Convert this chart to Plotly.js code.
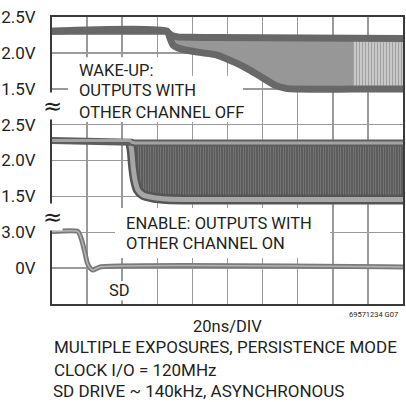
<!DOCTYPE html>
<html><head><meta charset="utf-8">
<script src="https://cdn.plot.ly/plotly-3.0.1.min.js"></script>
<style>html,body{margin:0;padding:0;background:#fff;}#chart{width:406px;height:402px;}</style>
</head><body><div id="chart"></div>
<script>
// ---- data (time in ns, values in volts) ----
const ch1Time  = [0, 65.5, 67.2, 68.9, 71.8, 75.8, 86, 94, 104.8, 112.8, 120.2, 127, 133.3, 139, 171.5, 200];
const ch1Upper = [2.30, 2.30, 2.26, 2.235, 2.222, 2.215, 2.214, 2.214, 2.212, 2.21, 2.21, 2.205, 2.205, 2.205, 2.20, 2.20];
const ch1Lower = [2.30, 2.30, 2.207, 2.11, 2.068, 2.04, 2.0, 1.97, 1.86, 1.76, 1.65, 1.55, 1.505, 1.495, 1.495, 1.495];
const ch1StripeStart = 171.5;

const ch2Time  = [0, 44.4, 45.4, 46.2, 47.3, 49, 51.9, 57.5, 65.5, 75, 200];
const ch2Upper = [2.279, 2.279, 2.255, 2.248, 2.245, 2.244, 2.244, 2.244, 2.244, 2.244, 2.244];
const ch2Lower = [2.279, 2.272, 2.146, 1.924, 1.728, 1.589, 1.519, 1.484, 1.463, 1.457, 1.457];

const sdTime = [0, 14.8, 16.9, 18.8, 20.1, 21.7, 23.4, 27.4, 200];
const sdVolt = [3.06, 3.06, 2.35, 1.27, 0.43, 0.01, -0.16, 0.10, 0.10];

const tickPos = [1, 2, 3, 4, 5, 6, 7, 8];
const tickText = ['0V', '3.0V', '1.5V', '2.0V', '2.5V', '1.5V', '2.0V', '2.5V'];

// ---- channel offsets on the screen (divisions) ----
const d1 = v => 6 + (v - 1.5) / 0.5;
const d2 = v => 3 + (v - 1.5) / 0.5;
const d3 = v => 1 + v / 3;

const FONT = 'Roboto, Liberation Sans, sans-serif';
const TXT = '#231f20';

function sliceBy(t, arr, lo, hi){ const o={x:[],y:[]}; t.forEach((tt,i)=>{ if(tt>=lo && tt<=hi){o.x.push(tt);o.y.push(arr[i]);} }); return o; }

const traces = [];
// ch1 medium fill
let lo1 = sliceBy(ch1Time, ch1Lower.map(d1), 65.5, ch1StripeStart);
let up1 = sliceBy(ch1Time, ch1Upper.map(d1), 65.5, ch1StripeStart);
traces.push({x: lo1.x, y: lo1.y, mode:'lines', line:{width:0, color:'rgba(0,0,0,0)', shape:'spline', smoothing:0.6}, hoverinfo:'skip'});
traces.push({x: up1.x, y: up1.y, mode:'lines', line:{width:0, color:'rgba(0,0,0,0)'}, fill:'tonexty', fillcolor:'#979797', hoverinfo:'skip'});
// ch1 striped fill
let lo1b = sliceBy(ch1Time, ch1Lower.map(d1), ch1StripeStart, 200);
let up1b = sliceBy(ch1Time, ch1Upper.map(d1), ch1StripeStart, 200);
traces.push({x: lo1b.x, y: lo1b.y, mode:'lines', line:{width:0, color:'rgba(0,0,0,0)'}, hoverinfo:'skip'});
traces.push({x: up1b.x, y: up1b.y, mode:'lines', line:{width:0, color:'rgba(0,0,0,0)'}, fill:'tonexty', fillcolor:'#c2c2c2',
  fillpattern:{shape:'|', bgcolor:'#c8c8c8', fgcolor:'#a0a0a0', size:3, solidity:0.35}, hoverinfo:'skip'});
// ch1 lines
traces.push({x: ch1Time, y: ch1Upper.map(d1), mode:'lines', line:{width:7, color:'#686868'}, hoverinfo:'skip'});
traces.push({x: ch1Time, y: ch1Lower.map(d1), mode:'lines', line:{width:7, color:'#686868', shape:'spline', smoothing:0.6}, hoverinfo:'skip'});

// ch2 fill
const lo2 = sliceBy(ch2Time, ch2Lower.map(d2), 44.4, 200);
traces.push({x: ch2Time, y: ch2Lower.map(d2), mode:'lines', line:{width:0, color:'rgba(0,0,0,0)', shape:'spline', smoothing:0.6}, hoverinfo:'skip'});
traces.push({x: ch2Time, y: ch2Upper.map(d2), mode:'lines', line:{width:0, color:'rgba(0,0,0,0)'}, fill:'tonexty', fillcolor:'#5a5a5a',
  fillpattern:{shape:'|', bgcolor:'#595959', fgcolor:'#808080', size:2.5, solidity:0.35}, hoverinfo:'skip'});
// ch2 edges
traces.push({x: lo2.x, y: lo2.y, mode:'lines', line:{width:10, color:'#555555', shape:'spline', smoothing:0.6}, hoverinfo:'skip'});
traces.push({x: lo2.x, y: lo2.y, mode:'lines', line:{width:5, color:'#a6a6a6', shape:'spline', smoothing:0.6}, hoverinfo:'skip'});
traces.push({x: ch2Time, y: ch2Upper.map(d2), mode:'lines', line:{width:7, color:'#5e5e5e'}, hoverinfo:'skip'});
traces.push({x: ch2Time, y: ch2Upper.map(d2), mode:'lines', line:{width:3, color:'#a3a3a3'}, hoverinfo:'skip'});

// SD
traces.push({x: sdTime, y: sdVolt.map(d3), mode:'lines', line:{width:5, color:'#7a7a7a', shape:'spline', smoothing:0.5}, hoverinfo:'skip'});
traces.push({x: sdTime, y: sdVolt.map(d3), mode:'lines', line:{width:1.5, color:'#b5b5b5', shape:'spline', smoothing:0.5}, hoverinfo:'skip'});

// white boxes hiding the graticule behind the text
const box = (x0,x1,y0,y1) => ({type:'rect', xref:'x', yref:'y', x0, x1, y0, y1, fillcolor:'#ffffff', line:{width:0}, layer:'between'});
const shapes = [
  box(9.1, 62.5, 5.07, 6.88),
  box(9.1, 108.8, 5.07, 6.36),
  box(35.9, 158.4, 1.282, 2.676),
  box(29.6, 45.6, 0.1, 0.64)
];

const ann = (text, x, y, opts={}) => Object.assign({text, x, y, xref:'x', yref:'y', showarrow:false, xanchor:'left', yanchor:'middle',
  font:{family:FONT, size:16.5, color:TXT}}, opts);
const pann = (text, x, y, opts={}) => Object.assign({text, x, y, xref:'paper', yref:'paper', showarrow:false, xanchor:'left', yanchor:'middle',
  font:{family:FONT, size:17, color:TXT}}, opts);

const annotations = [
  ann('WAKE-UP:', 14.2, 6.495),
  ann('OUTPUTS WITH', 14.2, 5.965),
  ann('OTHER CHANNEL OFF', 14.2, 5.352),
  ann('ENABLE: OUTPUTS WITH', 41.0, 2.244),
  ann('OTHER CHANNEL ON', 41.0, 1.686),
  ann('SD', 38.7, 0.39, {xanchor:'center'}),
  pann('≈', 0, 0.69, {xanchor:'center', bgcolor:'#ffffff', borderpad:0, font:{family:'DejaVu Sans', size:23, color:TXT}}),
  pann('≈', 0, 0.303, {xanchor:'center', bgcolor:'#ffffff', borderpad:0, font:{family:'DejaVu Sans', size:23, color:TXT}}),
  pann('20ns/DIV', 0.501, -0.0767, {xanchor:'center', font:{family:FONT, size:16.5, color:TXT}}),
  pann('69571234 G07', 0.991, -0.035, {xanchor:'right', font:{family:FONT, size:7.5, color:TXT}}),
  pann('MULTIPLE EXPOSURES, PERSISTENCE MODE', 0, -0.150),
  pann('CLOCK I/O = 120MHz', 0, -0.230),
  pann('SD DRIVE ~ 140kHz, ASYNCHRONOUS', 0, -0.302, {borderpad:0})
];

const layout = {
  width:406, height:402,
  margin:{l:52, r:3, t:17, b:98},
  paper_bgcolor:'#ffffff', plot_bgcolor:'#ffffff',
  showlegend:false,
  xaxis:{range:[0,200], dtick:20, tick0:0, showgrid:true, gridcolor:'#9a9a9a', gridwidth:1.5, zeroline:false,
    showline:true, mirror:true, linecolor:'#3a3a3a', linewidth:2, showticklabels:false, ticks:'', fixedrange:true},
  yaxis:{range:[0,8], tickvals:tickPos, ticktext:tickText, showgrid:true, gridcolor:'#9a9a9a', gridwidth:1.5, zeroline:false,
    showline:true, mirror:true, linecolor:'#3a3a3a', linewidth:2, ticks:'', ticklabelstandoff:11,
    tickfont:{family:FONT, size:17, color:TXT}, fixedrange:true},
  shapes, annotations
};

Plotly.newPlot('chart', traces, layout, {staticPlot:true, displayModeBar:false});
</script></body></html>
